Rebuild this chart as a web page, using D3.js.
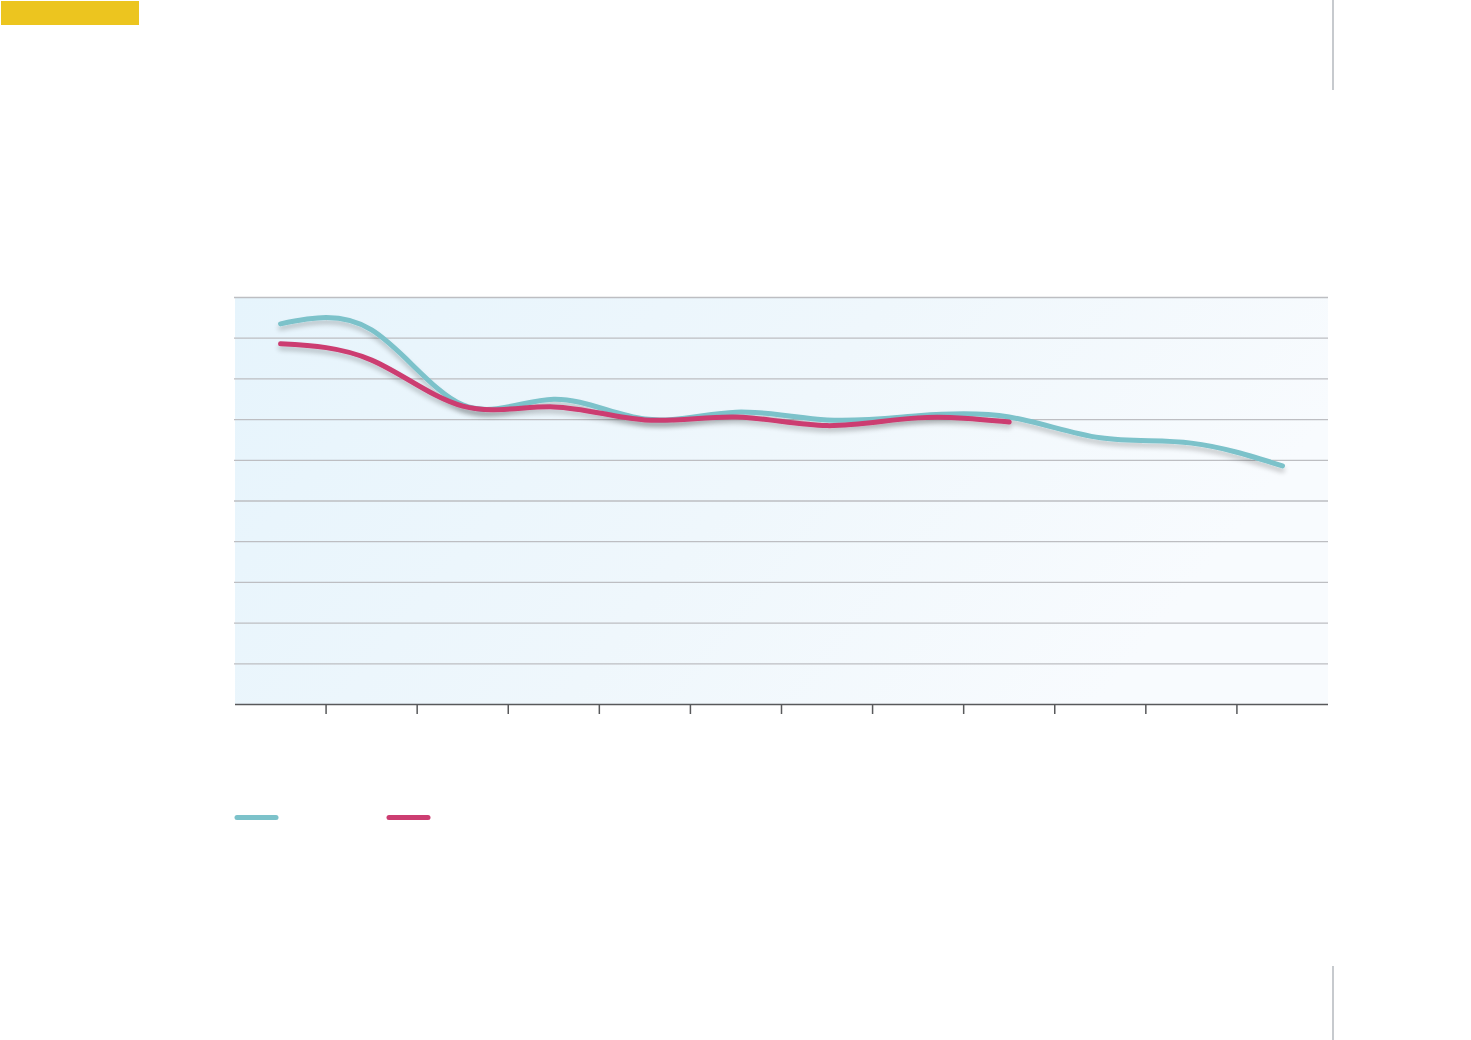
<!DOCTYPE html>
<html>
<head>
<meta charset="utf-8">
<script src="https://cdn.jsdelivr.net/npm/d3@7"></script>
<style>
  html, body { margin: 0; padding: 0; background: #ffffff; }
  svg { display: block; }
</style>
</head>
<body>
<svg id="chart" width="1471" height="1040"></svg>
<script>
// ---- data ----
const categories = ["1", "2", "3", "4", "5", "6", "7", "8", "9", "10", "11", "12"];
const seriesA = [93.4, 91.9, 73.5, 74.9, 70.0, 71.7, 69.8, 70.8, 70.5, 65.4, 64.1, 58.5];
const seriesB = [88.5, 84.5, 73.2, 73.0, 69.8, 70.5, 68.4, 70.3, 69.3];
const yTicks = [0, 10, 20, 30, 40, 50, 60, 70, 80, 90, 100];
const yDomain = [0, 100];

// ---- layout ----
const svg = d3.select("#chart");
const plotLeft = 235, plotRight = 1328, plotTop = 297, plotBottom = 704;
const colorA = "#7cc2ca", colorB = "#cc3d71";

const defs = svg.append("defs");
const grad = defs.append("linearGradient").attr("id", "bg").attr("x1", "0").attr("x2", "1").attr("y1", "0").attr("y2", "0.3");
grad.append("stop").attr("offset", "0%").attr("stop-color", "#e6f4fc");
grad.append("stop").attr("offset", "55%").attr("stop-color", "#eff7fc");
grad.append("stop").attr("offset", "100%").attr("stop-color", "#f8fbfe");

const f = defs.append("filter").attr("id", "shadow").attr("x", "-5%").attr("y", "-20%").attr("width", "110%").attr("height", "160%");
f.append("feGaussianBlur").attr("in", "SourceAlpha").attr("stdDeviation", 2.5).attr("result", "b");
f.append("feOffset").attr("in", "b").attr("dx", 0).attr("dy", 4).attr("result", "o");
f.append("feComponentTransfer").attr("in", "o").attr("result", "t")
  .append("feFuncA").attr("type", "linear").attr("slope", 0.22);
const fm = f.append("feMerge");
fm.append("feMergeNode").attr("in", "t");
fm.append("feMergeNode").attr("in", "SourceGraphic");

// yellow tab
svg.append("rect").attr("x", 1).attr("y", 1).attr("width", 138).attr("height", 24).attr("fill", "#ecc51f");

// right rules
svg.append("line").attr("x1", 1333).attr("x2", 1333).attr("y1", 0).attr("y2", 90)
  .attr("stroke", "#b9bdc2").attr("stroke-width", 1.6);
svg.append("line").attr("x1", 1333).attr("x2", 1333).attr("y1", 966).attr("y2", 1040)
  .attr("stroke", "#b9bdc2").attr("stroke-width", 1.6);

// scales
const x = d3.scaleBand().domain(categories).range([plotLeft, plotRight]).paddingInner(0).paddingOuter(0);
const y = d3.scaleLinear().domain(yDomain).range([plotBottom, plotTop]);

// plot background
svg.append("rect").attr("x", plotLeft).attr("y", plotTop).attr("width", plotRight - plotLeft).attr("height", plotBottom - plotTop)
  .attr("fill", "url(#bg)");

// gridlines
const grid = svg.append("g").attr("transform", `translate(${plotLeft - 1},0)`)
  .call(d3.axisRight(y).tickValues(yTicks.slice(1)).tickSize(plotRight - plotLeft + 1).tickFormat(""));
grid.select(".domain").remove();
grid.selectAll(".tick line").attr("stroke", "#bdbec2").attr("stroke-width", 1.3);

// x axis
const xAxis = svg.append("g").attr("transform", `translate(0,${plotBottom})`)
  .call(d3.axisBottom(x).tickSize(0).tickFormat(""));
xAxis.select(".domain").attr("stroke", "#58595b").attr("stroke-width", 1.6).attr("d", `M${plotLeft},0.5H${plotRight}`);
xAxis.selectAll(".tick").remove();
const boundaries = categories.slice(1).map(c => x(c));
svg.append("g").selectAll("line").data(boundaries).join("line")
  .attr("x1", d => d).attr("x2", d => d).attr("y1", plotBottom).attr("y2", plotBottom + 10)
  .attr("stroke", "#58595b").attr("stroke-width", 1.5);

// lines
const line = d3.line()
  .x((d, i) => x(categories[i]) + x.bandwidth() / 2)
  .y(d => y(d))
  .curve(d3.curveNatural);

svg.append("path").datum(seriesA).attr("d", line)
  .attr("fill", "none").attr("stroke", colorA).attr("stroke-width", 5)
  .attr("stroke-linecap", "round").attr("filter", "url(#shadow)");
svg.append("path").datum(seriesB).attr("d", line)
  .attr("fill", "none").attr("stroke", colorB).attr("stroke-width", 5)
  .attr("stroke-linecap", "round").attr("filter", "url(#shadow)");

// legend
const legend = [{ c: colorA, x: 237 }, { c: colorB, x: 389 }];
svg.append("g").selectAll("line").data(legend).join("line")
  .attr("x1", d => d.x).attr("x2", d => d.x + 39).attr("y1", 817.5).attr("y2", 817.5)
  .attr("stroke", d => d.c).attr("stroke-width", 5).attr("stroke-linecap", "round");
</script>
</body>
</html>
